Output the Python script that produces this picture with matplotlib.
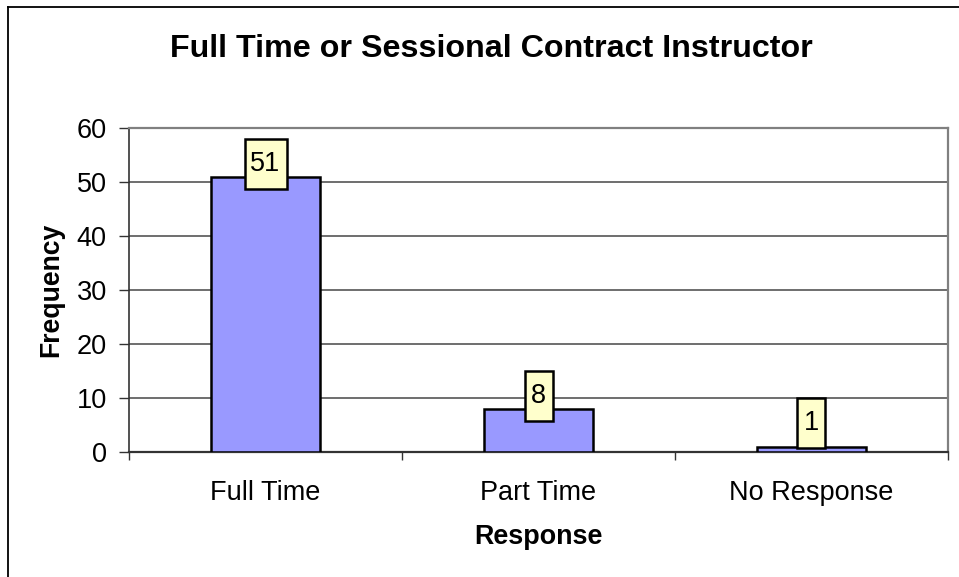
import matplotlib
matplotlib.use("Agg")
import matplotlib.pyplot as plt
import matplotlib.transforms as mtransforms
from matplotlib.patches import Rectangle
from matplotlib.lines import Line2D
import numpy as np

categories = ["Full Time", "Part Time", "No Response"]
values = [51, 8, 1]
yticks = [0, 10, 20, 30, 40, 50, 60]
title = "Full Time or Sessional Contract Instructor"
xlabel = "Response"
ylabel = "Frequency"

plt.rcParams['font.family'] = ['Liberation Sans', 'DejaVu Sans']

W, H = 959, 577
fig = plt.figure(figsize=(W / 100, H / 100), dpi=100)

# outer chart frame (left and top visible)
fig.add_artist(Line2D([8 / W, 8 / W], [0, 1 - 7 / H], transform=fig.transFigure, color='black', lw=1.3))
fig.add_artist(Line2D([8 / W, 1], [1 - 7 / H, 1 - 7 / H], transform=fig.transFigure, color='black', lw=1.3))

left, right, top, bottom = 129, 948, 128, 452
ax = fig.add_axes([left / W, 1 - bottom / H, (right - left) / W, (bottom - top) / H])

x = np.arange(len(categories))
ax.bar(x, values, width=0.40, color='#9999FF', edgecolor='black', linewidth=1.8, zorder=3)

ax.set_xlim(-0.5, len(categories) - 0.5)
ax.set_ylim(0, 60)
ax.set_yticks(yticks)
ax.yaxis.grid(True, color='#555555', linewidth=1.2, zorder=0)
ax.set_axisbelow(True)

ax.set_xticks(x)
ax.set_xticklabels(categories, fontsize=19.5)
ax.set_xticks(np.arange(len(categories) + 1) - 0.5, minor=True)
ax.tick_params(axis='x', which='major', length=0, pad=20)
ax.tick_params(axis='x', which='minor', length=6, direction='out', width=1, color='#333333')
ax.tick_params(axis='y', which='major', length=7, direction='out', width=1, labelsize=19.5, pad=9, color='#333333')

for s in ['top', 'right']:
    ax.spines[s].set_color('#808080')
    ax.spines[s].set_linewidth(1.6)
ax.spines['left'].set_color('#333333')
ax.spines['left'].set_linewidth(1.2)
ax.spines['bottom'].set_color('#333333')
ax.spines['bottom'].set_linewidth(1.6)

ax.set_ylabel(ylabel, fontsize=19.2, fontweight='bold', labelpad=9)
ax.set_xlabel(xlabel, fontsize=19.4, fontweight='bold', labelpad=13)

fig.text(491 / W, 1 - 57 / H, title, fontsize=23.2, fontweight='bold', ha='center', va='baseline')

# data labels in yellow boxes
ppx = ax.get_window_extent().height / 60.0  # pixels per unit
for xi, v in zip(x, values):
    s = str(v)
    bw = 14 * (len(s) + 1) / 100.0
    bh = 50 / 100.0
    bottom_off = max(-12.0, -(v * ppx - 4.0)) / 100.0
    cy = bottom_off + bh / 2
    trans = fig.dpi_scale_trans + mtransforms.ScaledTranslation(xi, v, ax.transData)
    ax.add_patch(Rectangle((-bw / 2, bottom_off), bw, bh, transform=trans,
                           facecolor='#FFFFCC', edgecolor='black', linewidth=1.8, zorder=5, clip_on=False))
    ax.text(0, cy, s, transform=trans, ha='center', va='center', fontsize=19.5, zorder=6)

fig.savefig("out.png", dpi=100)
